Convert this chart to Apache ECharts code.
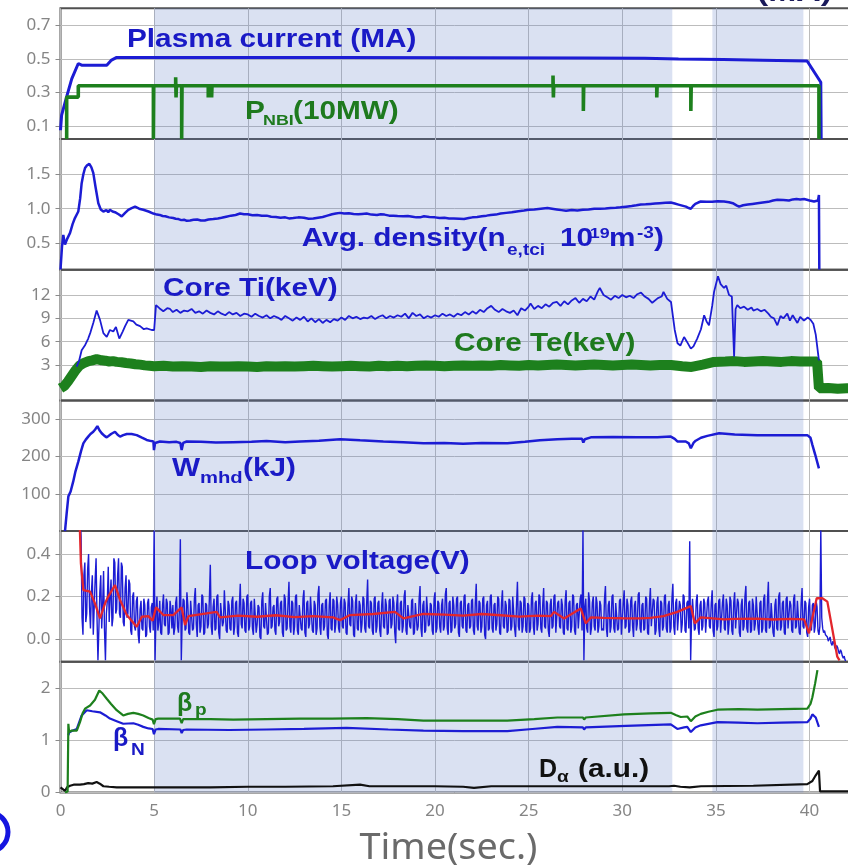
<!DOCTYPE html>
<html><head><meta charset="utf-8">
<script src="https://cdn.jsdelivr.net/npm/echarts@6/dist/echarts.min.js"></script>
<style>html,body{margin:0;padding:0;background:#fff;overflow:hidden}#c{width:848px;height:868px}</style>
</head><body><div id="c"></div><script>
// ---- discharge time traces (time in s) ----
const plasmaCurrent = [[0,0.075],[0.06,0.165],[0.15,0.17],[0.33,0.275],[0.6,0.38],[0.95,0.472],[1.13,0.462],[2.47,0.462],[2.7,0.49],[3.0,0.508],[8,0.508],[15,0.507],[22,0.506],[28,0.505],[31.2,0.503],[33,0.498],[35.4,0.495],[37.5,0.491],[39.87,0.487],[40.6,0.36],[40.62,0.023]];
const pNbi = [[0.33,0.023],[0.33,0.272],[0.95,0.272],[0.95,0.34],[4.96,0.34],[4.96,0.023],[4.98,0.34],[6.15,0.34],[6.15,0.39],[6.17,0.27],[6.19,0.34],[6.47,0.34],[6.47,0.023],[6.49,0.34],[7.89,0.34],[7.89,0.27],[7.91,0.34],[8.07,0.34],[8.07,0.27],[8.09,0.34],[26.3,0.34],[26.3,0.40],[26.32,0.27],[26.34,0.34],[27.92,0.34],[27.92,0.19],[27.94,0.34],[31.84,0.34],[31.84,0.27],[31.86,0.34],[33.66,0.34],[33.66,0.19],[33.68,0.34],[40.5,0.34],[40.5,0.023]];
const density = [[0,0.12],[0.08,0.45],[0.15,0.62],[0.24,0.48],[0.35,0.56],[0.51,0.65],[0.65,0.78],[0.77,0.865],[0.95,0.96],[1.05,1.15],[1.13,1.37],[1.22,1.5],[1.31,1.59],[1.42,1.63],[1.54,1.65],[1.65,1.6],[1.75,1.52],[1.88,1.3],[2.02,1.08],[2.15,0.99],[2.29,0.96],[2.45,0.98],[2.55,0.95],[2.64,0.985],[2.78,0.96],[2.91,0.95],[3.1,0.92],[3.27,0.89],[3.45,0.94],[3.62,0.985],[3.8,1.01],[3.98,1.03],[4.2,1.0],[4.42,0.985],[4.7,0.96],[4.96,0.93],[5.15,0.915],[5.3,0.91],[5.45,0.895],[5.6,0.89],[5.8,0.875],[6.02,0.865],[6.15,0.855],[6.3,0.85],[6.45,0.835],[6.6,0.84],[6.75,0.825],[6.92,0.83],[7.1,0.84],[7.3,0.845],[7.5,0.83],[7.7,0.83],[7.9,0.845],[8.16,0.85],[8.4,0.86],[8.6,0.87],[8.85,0.885],[9.1,0.9],[9.35,0.91],[9.59,0.93],[9.8,0.92],[10.0,0.92],[10.25,0.905],[10.5,0.91],[10.75,0.9],[11.01,0.9],[11.25,0.885],[11.5,0.88],[11.75,0.87],[12.0,0.875],[12.2,0.86],[12.43,0.865],[12.7,0.875],[13.0,0.87],[13.25,0.855],[13.5,0.86],[13.75,0.87],[14.0,0.88],[14.25,0.9],[14.5,0.92],[14.7,0.93],[14.93,0.94],[15.15,0.93],[15.4,0.935],[15.65,0.925],[15.9,0.92],[16.1,0.925],[16.35,0.93],[16.6,0.915],[16.9,0.91],[17.1,0.92],[17.3,0.915],[17.55,0.9],[17.77,0.9],[18.0,0.895],[18.3,0.89],[18.55,0.895],[18.8,0.885],[19.0,0.875],[19.2,0.875],[19.41,0.89],[19.7,0.88],[20.0,0.875],[20.25,0.865],[20.5,0.87],[20.75,0.86],[21.0,0.86],[21.3,0.855],[21.55,0.85],[21.8,0.865],[22.0,0.875],[22.25,0.88],[22.5,0.89],[22.75,0.9],[22.97,0.91],[23.25,0.915],[23.5,0.93],[23.8,0.94],[24.1,0.95],[24.45,0.965],[24.75,0.975],[25.0,0.985],[25.3,0.99],[25.65,1.0],[26.0,1.01],[26.25,1.0],[26.5,0.99],[26.75,0.98],[27.0,0.97],[27.3,0.98],[27.6,0.975],[27.9,0.985],[28.2,0.99],[28.5,1.0],[28.8,1.0],[29.1,1.005],[29.38,1.01],[29.65,1.015],[29.9,1.02],[30.2,1.03],[30.5,1.04],[30.75,1.05],[30.99,1.06],[31.25,1.065],[31.5,1.07],[31.75,1.075],[32.0,1.08],[32.3,1.085],[32.59,1.09],[32.8,1.075],[33.0,1.06],[33.2,1.045],[33.4,1.03],[33.55,1.01],[33.66,1.0],[33.78,1.04],[33.9,1.07],[34.05,1.09],[34.19,1.105],[34.5,1.1],[34.8,1.1],[35.1,1.11],[35.43,1.105],[35.7,1.095],[35.9,1.08],[36.1,1.05],[36.24,1.03],[36.45,1.05],[36.7,1.06],[36.95,1.07],[37.21,1.08],[37.5,1.09],[37.8,1.1],[38.05,1.12],[38.28,1.13],[38.6,1.125],[38.9,1.12],[39.1,1.135],[39.3,1.14],[39.5,1.135],[39.71,1.14],[40.0,1.12],[40.24,1.105],[40.45,1.12],[40.5,1.2],[40.52,0.12]];
const coreTi = [[0.865,2.8],[1.0,3.6],[1.13,4.9],[1.3,5.5],[1.48,6.4],[1.6,7.2],[1.75,8.4],[1.93,10.0],[2.11,8.8],[2.29,7.1],[2.47,6.6],[2.64,7.5],[2.82,7.3],[2.96,7.9],[3.14,6.4],[3.32,7.3],[3.45,8.0],[3.62,8.8],[3.89,8.6],[4.05,8.2],[4.25,8.0],[4.45,7.6],[4.6,7.7],[4.87,7.5],[5.0,7.5],[5.1,10.7],[5.28,10.3],[5.49,9.9],[5.7,10.3],[5.85,10.2],[6.0,9.8],[6.2,10.1],[6.4,9.7],[6.6,10.0],[6.8,9.9],[7.0,10.2],[7.2,9.7],[7.4,9.9],[7.6,9.6],[7.8,10.0],[8.0,9.7],[8.2,9.5],[8.4,9.9],[8.6,9.6],[8.8,9.4],[9.0,9.8],[9.2,9.5],[9.4,9.7],[9.6,9.3],[9.8,9.6],[10.0,9.5],[10.2,9.2],[10.4,9.6],[10.6,9.3],[10.8,9.1],[11.0,9.4],[11.2,9.0],[11.4,9.3],[11.6,9.1],[11.8,8.8],[12.0,9.3],[12.2,9.0],[12.4,8.7],[12.6,9.1],[12.8,8.8],[13.0,9.2],[13.2,8.6],[13.4,9.0],[13.6,8.5],[13.8,8.9],[14.0,8.4],[14.2,8.8],[14.4,8.5],[14.6,8.9],[14.8,8.7],[15.0,9.1],[15.2,8.8],[15.4,9.3],[15.6,9.0],[15.8,9.2],[16.0,8.9],[16.2,9.1],[16.4,9.0],[16.6,9.3],[16.8,8.9],[17.0,9.2],[17.2,9.4],[17.4,9.0],[17.6,9.3],[17.8,9.1],[18.0,9.4],[18.2,9.2],[18.4,9.6],[18.6,9.0],[18.8,9.7],[19.0,9.3],[19.2,9.5],[19.4,9.0],[19.6,9.3],[19.8,9.1],[20.0,9.4],[20.2,9.2],[20.4,9.6],[20.6,9.3],[20.8,9.5],[21.0,9.2],[21.2,9.6],[21.4,9.4],[21.6,9.8],[21.8,9.5],[22.0,9.9],[22.2,9.6],[22.4,10.1],[22.6,9.8],[22.8,10.3],[23.0,10.6],[23.2,10.1],[23.4,9.8],[23.6,10.2],[23.8,9.9],[24.0,9.7],[24.2,10.0],[24.4,9.4],[24.6,10.3],[24.8,10.0],[25.0,10.5],[25.1,10.9],[25.3,10.2],[25.5,10.6],[25.7,10.3],[25.9,10.8],[26.1,10.5],[26.3,11.0],[26.5,11.1],[26.7,10.6],[26.9,11.2],[27.1,10.8],[27.3,11.3],[27.5,11.6],[27.7,11.0],[27.9,11.5],[28.1,11.2],[28.3,11.8],[28.5,11.4],[28.7,12.5],[28.8,12.9],[29.0,12.0],[29.2,11.7],[29.4,11.4],[29.6,11.9],[29.8,11.6],[30.0,12.0],[30.2,11.7],[30.4,11.9],[30.6,11.6],[30.8,12.1],[31.0,12.3],[31.2,11.8],[31.4,11.5],[31.6,11.0],[31.7,10.9],[31.9,11.6],[32.1,11.8],[32.2,12.4],[32.4,11.5],[32.6,11.1],[32.8,7.5],[32.95,5.8],[33.1,5.5],[33.3,6.6],[33.45,6.0],[33.66,5.1],[33.8,5.4],[34.0,6.4],[34.2,7.6],[34.37,9.4],[34.5,8.6],[34.63,8.1],[34.8,10.6],[34.9,12.4],[35.11,14.4],[35.25,13.4],[35.43,12.9],[35.55,13.2],[35.7,12.0],[35.85,11.8],[35.97,4.1],[36.05,10.2],[36.14,10.7],[36.3,10.3],[36.5,10.5],[36.7,10.1],[36.9,10.4],[37.0,10.0],[37.21,10.2],[37.4,9.9],[37.6,10.1],[37.8,9.6],[37.93,9.2],[38.1,9.0],[38.28,8.1],[38.45,9.3],[38.6,9.0],[38.81,9.6],[38.95,8.7],[39.1,9.4],[39.35,8.4],[39.5,9.2],[39.7,8.7],[39.9,9.1],[40.06,8.8],[40.2,8.3],[40.33,6.9],[40.5,3.6]];
const coreTe = [[0,0.0],[0.2,0.3],[0.4,0.9],[0.6,1.6],[0.8,2.3],[1.0,2.9],[1.2,3.2],[1.5,3.5],[1.7,3.6],[1.93,3.75],[2.2,3.6],[2.4,3.55],[2.6,3.45],[2.8,3.5],[3.0,3.4],[3.25,3.35],[3.5,3.25],[3.75,3.2],[4.0,3.1],[4.25,3.05],[4.5,2.95],[4.75,2.9],[5.0,2.85],[5.5,2.9],[6,2.8],[6.5,2.85],[7,2.8],[7.5,2.75],[8,2.85],[8.5,2.8],[9,2.8],[9.5,2.85],[10,2.8],[10.5,2.75],[11,2.85],[11.5,2.8],[12,2.85],[12.5,2.8],[13,2.85],[13.5,2.9],[14,2.85],[14.5,2.8],[15,2.85],[15.5,2.9],[16,2.85],[16.5,2.8],[17,2.9],[17.5,2.85],[18,2.9],[18.5,2.85],[19,2.9],[19.5,2.95],[20,2.9],[20.5,2.85],[21,2.9],[21.5,2.95],[22,2.9],[22.5,2.95],[23,2.9],[23.5,3.0],[24,2.95],[24.5,2.9],[25,3.0],[25.5,2.95],[26,3.0],[26.5,3.05],[27,3.0],[27.5,2.95],[28,3.0],[28.5,3.05],[29,3.0],[29.5,2.95],[30,3.0],[30.5,3.05],[31,3.0],[31.5,2.95],[32,3.0],[32.6,3.0],[33.2,2.85],[33.7,2.75],[34.3,3.05],[34.9,3.4],[35.5,3.45],[36,3.5],[36.5,3.4],[37,3.45],[37.5,3.5],[38,3.45],[38.5,3.4],[39,3.5],[39.5,3.45],[40,3.45],[40.4,3.45],[40.5,0.0],[41,0.05],[41.5,-0.05],[42,0.0],[42.7,0.0]];
const wMhd = [[0.24,0],[0.33,48],[0.42,93],[0.54,106],[0.68,133],[0.8,160],[0.95,186],[1.1,215],[1.22,235],[1.35,245],[1.48,253],[1.6,260],[1.75,266],[1.85,272],[1.97,281],[2.08,270],[2.2,262],[2.35,255],[2.47,251],[2.7,260],[2.91,266],[3.05,258],[3.18,253],[3.35,257],[3.54,260],[3.8,260],[4.07,257],[4.35,250],[4.6,244],[4.85,241],[4.96,240],[4.99,217],[5.05,236],[5.31,240],[5.8,238],[6.2,239],[6.4,236],[6.47,217],[6.55,236],[6.74,240],[7.5,239],[8.3,237],[9.21,238],[10.2,239],[11.0,241],[12.0,238],[12.79,240],[13.8,242],[14.93,246],[16.0,243],[17.24,240],[18.3,238],[19.38,235],[20.5,236],[21.5,234],[22.5,236],[23.86,235],[24.8,239],[25.6,243],[26.53,246],[27.3,247],[27.85,247],[27.92,237],[28.0,246],[28.32,251],[29.5,252],[30.8,251],[31.87,251],[32.59,253],[32.8,247],[32.94,240],[33.39,240],[33.55,235],[33.66,222],[33.8,236],[33.92,242],[34.2,250],[34.54,255],[35.17,262],[36.0,259],[37.21,257],[38.5,257],[39.88,257],[40.05,250],[40.15,231],[40.3,205],[40.5,168]];
// loop voltage, raw signal sampled every 0.05 s from 1.0 s (one row per second)
const vloopStart = 1.0, vloopStep = 0.05;
const vloopRaw = [
 0.55,0.60,0.48,0.10,0.02,0.30,0.36,0.08,0.12,0.33,0.40,0.15,0.05,0.22,0.30,0.02,0.15,0.28,0.38,0.10,
 -0.10,0.05,0.22,0.30,0.05,0.16,0.32,0.04,-0.10,0.12,0.18,0.34,0.08,0.20,0.28,0.06,0.10,0.38,0.36,0.12,
 0.14,0.30,0.38,0.12,0.10,0.36,0.34,0.08,0.06,0.24,0.30,0.10,0.12,0.28,0.26,0.04,0.02,0.20,0.22,0.06,
 0.04,0.18,0.20,0.02,-0.02,0.14,0.18,0.05,0.04,0.19,0.16,0.01,0.02,0.17,0.19,0.06,0.03,0.15,0.17,0.04,
 0.52,-0.10,0.12,0.20,0.04,0.08,0.18,0.03,0.02,0.16,0.21,0.07,0.06,0.19,0.17,0.02,0.03,0.18,0.14,0.05,
 0.16,0.02,0.05,0.17,0.20,0.06,0.03,0.15,0.47,-0.10,0.10,0.19,0.18,0.04,0.05,0.22,0.16,0.03,0.02,0.18,
 0.18,0.04,0.05,0.19,0.24,0.07,0.01,0.16,0.17,0.03,0.06,0.21,0.20,0.02,0.03,0.17,0.16,0.05,0.07,0.19,
 0.35,0.06,0.02,0.15,0.19,0.04,0.05,0.20,0.21,0.03,0.00,0.17,0.17,0.06,0.08,0.23,0.23,0.04,0.03,0.18,
 0.16,0.05,0.04,0.18,0.20,0.02,0.06,0.17,0.18,0.03,0.01,0.16,0.26,0.07,0.05,0.19,0.17,0.04,0.03,0.20,
 0.21,0.04,0.06,0.17,0.18,0.05,0.02,0.19,0.19,0.03,0.07,0.16,0.15,0.01,0.00,0.18,0.22,0.06,0.05,0.17,
 0.17,0.02,0.03,0.20,0.24,0.05,0.06,0.15,0.16,0.04,0.02,0.19,0.20,0.06,0.08,0.17,0.18,0.03,0.01,0.21,
 0.19,0.04,0.05,0.17,0.27,0.06,0.03,0.18,0.17,0.02,0.06,0.20,0.21,0.04,0.02,0.16,0.16,0.05,0.04,0.19,
 0.23,0.03,0.01,0.17,0.18,0.05,0.07,0.20,0.20,0.04,0.03,0.18,0.16,0.02,0.05,0.21,0.25,0.06,0.02,0.16,
 0.17,0.04,0.06,0.18,0.19,0.02,0.00,0.16,0.22,0.05,0.04,0.19,0.18,0.03,0.07,0.20,0.16,0.05,0.03,0.17,
 0.20,0.06,0.05,0.19,0.17,0.03,0.02,0.16,0.24,0.07,0.06,0.20,0.18,0.02,0.01,0.17,0.21,0.05,0.04,0.18,
 0.16,0.03,0.07,0.20,0.19,0.05,0.03,0.17,0.28,0.06,0.05,0.18,0.17,0.04,0.02,0.19,0.20,0.03,0.06,0.17,
 0.18,0.04,0.01,0.16,0.22,0.06,0.05,0.19,0.16,0.02,0.03,0.18,0.19,0.05,0.07,0.20,0.17,0.03,-0.02,0.16,
 0.21,0.05,0.04,0.17,0.18,0.03,0.06,0.20,0.23,0.04,0.02,0.16,0.16,0.06,0.05,0.18,0.19,0.02,0.03,0.17,
 0.17,0.04,0.06,0.19,0.25,0.05,0.01,0.16,0.18,0.03,0.04,0.20,0.20,0.06,0.07,0.17,0.16,0.04,0.02,0.19,
 0.22,0.03,0.05,0.18,0.17,0.06,0.03,0.16,0.19,0.04,0.06,0.21,0.24,0.05,0.02,0.17,0.18,0.03,0.04,0.20,
 0.16,0.05,0.07,0.19,0.20,0.03,0.01,0.17,0.18,0.06,0.05,0.20,0.21,0.04,0.03,0.16,0.17,0.05,0.06,0.18,
 0.19,0.04,0.02,0.17,0.26,0.06,0.04,0.18,0.17,0.03,0.06,0.19,0.20,0.02,0.00,0.16,0.18,0.04,0.05,0.20,
 0.21,0.05,0.03,0.16,0.17,0.04,0.07,0.20,0.19,0.03,0.02,0.17,0.23,0.06,0.05,0.18,0.16,0.03,0.04,0.19,
 0.18,0.04,0.06,0.20,0.20,0.05,0.01,0.16,0.27,0.06,0.04,0.18,0.17,0.03,0.06,0.20,0.19,0.04,0.03,0.17,
 0.16,0.03,0.05,0.19,0.22,0.06,0.02,0.17,0.18,0.04,0.07,0.21,0.20,0.05,0.03,0.16,0.24,0.06,0.05,0.18,
 0.17,0.04,0.01,0.16,0.19,0.05,0.06,0.20,0.21,0.03,0.03,0.17,0.18,0.06,0.05,0.19,0.16,0.03,0.02,0.18,
 0.23,0.05,0.04,0.17,0.18,0.03,0.06,0.21,0.20,0.04,0.02,0.16,0.17,0.05,0.05,0.19,0.21,0.04,0.52,-0.10,
 0.15,0.19,0.05,0.03,0.22,0.18,0.02,0.05,0.17,0.20,0.06,0.04,0.20,0.17,0.03,0.06,0.18,0.16,0.04,0.05,
 0.04,0.19,0.25,0.05,0.01,0.16,0.18,0.03,0.06,0.20,0.21,0.05,0.03,0.17,0.17,0.04,0.05,0.18,0.19,0.02,
 0.02,0.17,0.23,0.05,0.06,0.19,0.16,0.03,0.04,0.18,0.20,0.06,0.01,0.16,0.18,0.04,0.07,0.21,0.22,0.05,
 0.03,0.16,0.17,0.04,0.05,0.20,0.19,0.03,0.02,0.17,0.24,0.06,0.06,0.19,0.18,0.02,0.04,0.17,0.20,0.05,
 0.01,0.18,0.17,0.04,0.06,0.20,0.21,0.05,0.03,0.16,0.18,0.03,0.05,0.19,0.26,0.06,0.02,0.17,0.19,0.04,
 0.04,0.18,0.16,0.03,0.07,0.21,0.20,0.04,0.03,0.17,0.18,0.05,0.46,-0.10,0.10,0.19,0.19,0.04,0.05,0.18,
 0.21,0.05,0.02,0.16,0.18,0.04,0.06,0.19,0.17,0.03,0.03,0.18,0.20,0.06,0.05,0.17,0.23,0.04,0.01,0.16,
 0.17,0.04,0.06,0.18,0.19,0.03,0.03,0.17,0.21,0.05,0.04,0.19,0.16,0.02,0.07,0.20,0.18,0.04,0.02,0.17,
 0.22,0.05,0.05,0.19,0.17,0.03,0.01,0.16,0.19,0.04,0.06,0.20,0.25,0.05,0.03,0.17,0.18,0.03,0.04,0.19,
 0.16,0.04,0.07,0.20,0.20,0.05,0.02,0.17,0.18,0.03,0.05,0.19,0.21,0.04,0.03,0.18,0.27,0.05,0.06,0.17,
 0.17,0.03,0.01,0.16,0.19,0.05,0.04,0.20,0.22,0.04,0.06,0.17,0.18,0.03,0.02,0.19,0.20,0.05,0.05,0.18,
 0.16,0.04,0.03,0.19,0.21,0.05,0.06,0.18,0.18,0.03,0.02,0.17,0.24,0.06,0.05,0.18,0.17,0.03,0.01,0.15,
 0.19,0.05,0.04,0.16,0.17,0.03,0.06,0.18,0.15,0.04,0.02,0.06,0.52,0.10,0.05,0.03,0.04,0.02,0.02,0.01,
 -0.01,0.00,0.01,-0.02,-0.03,-0.01,-0.02,-0.04,-0.05,-0.03,-0.04,-0.06,-0.07,-0.05,-0.06,-0.08,-0.09,-0.08,-0.10,-0.10
];
const vloopSmooth = [[1.0,0.62],[1.09,0.356],[1.22,0.23],[1.58,0.223],[1.84,0.168],[2.11,0.097],[2.38,0.168],[2.55,0.2],[2.91,0.254],[3.18,0.184],[3.54,0.113],[4.07,0.058],[4.34,0.105],[4.69,0.108],[4.92,0.086],[5.1,0.149],[5.49,0.113],[6.02,0.113],[6.47,0.149],[6.65,0.066],[6.83,0.108],[8.34,0.128],[8.52,0.102],[9.5,0.11],[10.5,0.105],[11.5,0.112],[12.5,0.103],[13.5,0.108],[14.55,0.102],[14.93,0.089],[15.46,0.113],[16.7,0.118],[17.86,0.128],[18.31,0.097],[19.38,0.118],[20.5,0.115],[21.5,0.11],[22.5,0.118],[23.5,0.112],[24.5,0.106],[25.5,0.11],[26.18,0.108],[26.36,0.128],[26.89,0.097],[27.78,0.144],[28.05,0.074],[28.32,0.102],[29.0,0.1],[30.0,0.098],[30.99,0.097],[31.5,0.1],[32.2,0.108],[32.94,0.128],[33.66,0.155],[33.87,0.074],[34.19,0.102],[35.43,0.093],[36.0,0.095],[37.21,0.096],[38.0,0.092],[39.0,0.095],[39.71,0.093],[39.97,0.027],[40.38,0.192],[40.68,0.192],[40.95,0.176],[41.48,-0.083],[41.6,-0.1]];
const betaP = [[0.24,0],[0.38,0.02],[0.42,1.32],[0.46,1.16],[0.6,1.19],[0.87,1.19],[1.04,1.35],[1.18,1.52],[1.31,1.61],[1.58,1.67],[1.84,1.78],[2.07,1.96],[2.25,1.9],[2.47,1.80],[2.7,1.7],[3.0,1.58],[3.35,1.48],[3.6,1.51],[3.89,1.53],[4.15,1.51],[4.42,1.48],[4.7,1.43],[4.92,1.40],[4.99,1.31],[5.08,1.41],[5.22,1.42],[6.38,1.42],[6.47,1.33],[6.55,1.41],[6.65,1.42],[8.0,1.41],[9.23,1.40],[11.0,1.41],[12.79,1.42],[14.5,1.42],[16.35,1.43],[18.0,1.41],[19.38,1.38],[21.5,1.38],[23.86,1.38],[25.3,1.41],[26.53,1.44],[27.9,1.44],[27.96,1.40],[28.05,1.44],[30.09,1.50],[31.5,1.52],[32.59,1.53],[32.85,1.49],[33.12,1.45],[33.47,1.46],[33.66,1.37],[33.9,1.46],[34.19,1.51],[34.6,1.55],[35.08,1.59],[36.2,1.60],[37.21,1.59],[38.5,1.6],[39.88,1.61],[40.05,1.7],[40.15,1.83],[40.3,2.1],[40.42,2.35]];
const betaN = [[0.42,1.1],[0.46,1.15],[0.6,1.18],[0.87,1.22],[1.0,1.35],[1.13,1.48],[1.4,1.58],[1.7,1.56],[2.11,1.54],[2.4,1.48],[2.64,1.42],[3.0,1.37],[3.35,1.32],[3.89,1.33],[4.15,1.3],[4.42,1.26],[4.7,1.23],[4.92,1.22],[4.99,1.12],[5.08,1.21],[5.22,1.22],[6.4,1.21],[6.47,1.14],[6.55,1.2],[6.74,1.21],[9.0,1.2],[11.01,1.21],[13.0,1.22],[15.28,1.24],[17.5,1.21],[19.38,1.19],[21.5,1.18],[23.86,1.18],[25.2,1.22],[26.53,1.26],[27.9,1.25],[27.96,1.21],[28.05,1.25],[30.2,1.28],[32.59,1.31],[32.94,1.22],[33.3,1.25],[33.47,1.26],[33.66,1.16],[33.9,1.25],[34.19,1.29],[35.08,1.35],[36.2,1.34],[37.21,1.33],[38.5,1.34],[39.88,1.35],[40.05,1.42],[40.15,1.50],[40.33,1.44],[40.5,1.26]];
const dAlpha = [[0,0.10],[0.1,0.08],[0.24,0.03],[0.35,0.1],[0.51,0.13],[0.7,0.15],[1.04,0.15],[1.25,0.16],[1.48,0.18],[1.7,0.17],[1.93,0.20],[2.1,0.17],[2.29,0.12],[2.6,0.11],[3.0,0.10],[5,0.10],[8,0.10],[10,0.11],[12,0.11],[14.55,0.12],[16.0,0.15],[16.5,0.12],[20,0.12],[21.5,0.11],[22.08,0.09],[23,0.12],[26,0.12],[30,0.12],[32.5,0.12],[32.76,0.13],[33.1,0.11],[33.6,0.10],[34.2,0.12],[37,0.13],[39.88,0.16],[40.15,0.22],[40.33,0.33],[40.5,0.42],[40.56,0.02],[42.7,0.02]];

// time windows highlighted in every panel
const highlightWindows = [[5.0, 32.67], [34.81, 39.67]];
// per-panel y ranges and tick values
const yRanges = [[0.023,0.8],[0.117,2.01],[-1.55,15.25],[0,350],[-0.107,0.508],[0,2.51]];
const yTicks = [[0.1,0.3,0.5,0.7],[0.5,1.0,1.5],[3,6,9,12],[100,200,300],[0.0,0.2,0.4],[0,1,2]];
const yDecimals = [1,1,0,0,1,0];
const xTickLabels = [0,5,10,15,20,25,30,35,40];

// ---- layout ----
// the plot area runs past the right edge of the page, as on the original figure
const PANEL_TOP = 8.3, PANEL_H = 130.7, LEFT = 60.5, WIDTH = 800, XMAX = 42.72;
const BLUE = '#1c1cd4', GREEN = '#1d801d', RED = '#e3262c', TXT_BLUE = '#1a1ac6', TXT_GREEN = '#1e7a1e';
const tickFont = '"Noto Sans", "Open Sans", sans-serif';
const labelFont = '"Liberation Sans", Arial, sans-serif';

const grids = [], xAxes = [], yAxes = [];
for (let i = 0; i < 6; i++) {
  grids.push({left: LEFT, top: PANEL_TOP + i * PANEL_H, width: WIDTH, height: PANEL_H,
    outerBoundsMode: 'none', containLabel: false,
    show: true, borderColor: '#505050', borderWidth: 2, backgroundColor: 'transparent'});
  xAxes.push({type: 'value', gridIndex: i, min: 0, max: XMAX, interval: 5,
    axisLine: {show: false}, axisTick: {show: false},
    axisLabel: {show: i === 5, margin: 10, color: '#858585', fontSize: 17, fontFamily: tickFont,
      formatter: v => xTickLabels.indexOf(v) >= 0 ? String(v) : ''},
    splitLine: {show: true, lineStyle: {color: '#bcbcbc', width: 1}}});
  yAxes.push({type: 'value', gridIndex: i, min: yRanges[i][0], max: yRanges[i][1],
    axisLine: {show: false},
    axisTick: {show: true, length: 5, customValues: yTicks[i], lineStyle: {color: '#8a8a8a'}},
    axisLabel: {customValues: yTicks[i], margin: 10, color: '#858585', fontSize: 17, fontFamily: tickFont,
      formatter: v => Number(v).toFixed(yDecimals[i])},
    splitLine: {show: true, lineStyle: {color: '#bcbcbc', width: 1}}});
}

const shade = {silent: true, z: 1, itemStyle: {color: 'rgba(100,130,200,0.24)'},
  data: highlightWindows.map(w => [{xAxis: w[0]}, {xAxis: w[1]}])};

function line(i, data, color, width, extra) {
  return Object.assign({type: 'line', xAxisIndex: i, yAxisIndex: i, data, showSymbol: false, symbol: 'none',
    animation: false, silent: true, lineStyle: {color, width}, clip: true}, extra || {});
}

const vloopSeries = vloopRaw.map((v, k) => [+(vloopStart + k * vloopStep).toFixed(2), v]);

const series = [
  line(0, plasmaCurrent, BLUE, 3, {markArea: shade}),
  line(0, pNbi, GREEN, 3.6),
  line(1, density, BLUE, 2.5, {markArea: shade}),
  line(2, coreTe, GREEN, 10, {markArea: shade}),
  line(2, coreTi, BLUE, 1.8),
  line(3, wMhd, BLUE, 2.5, {markArea: shade}),
  line(4, vloopSeries, BLUE, 1.4, {markArea: shade}),
  line(4, vloopSmooth, RED, 2.3),
  line(5, dAlpha, '#111111', 2.2, {markArea: shade}),
  line(5, betaN, BLUE, 2.2),
  line(5, betaP, GREEN, 2.2)
];

function label(text, x, y, size, color, sx) {
  return {type: 'text', x, y, scaleX: sx || 1.19, silent: true, z: 50,
    style: {text, fontFamily: labelFont, fontWeight: 'bold', fontSize: size, fill: color,
      align: 'left', verticalAlign: 'middle'}};
}

const graphics = [
  label('Plasma current (MA)', 127, 40, 25, TXT_BLUE),
  label('P', 245, 111.7, 25, TXT_GREEN),
  label('NBI', 263, 121, 15, TXT_GREEN),
  label('(10MW)', 293, 111.7, 25, TXT_GREEN),
  label('Avg. density(n', 301.7, 239.2, 25, TXT_BLUE),
  label('e,tci', 507, 251, 16, TXT_BLUE),
  label('10', 560, 239.2, 25, TXT_BLUE),
  label('19', 589.7, 233.4, 15, TXT_BLUE),
  label('m', 609, 239.2, 25, TXT_BLUE),
  label('-3', 637, 233.4, 16, TXT_BLUE),
  label(')', 654, 239.2, 25, TXT_BLUE),
  label('Core Ti(keV)', 163, 289, 25, TXT_BLUE),
  label('Core Te(keV)', 454, 344, 25, TXT_GREEN),
  label('W', 172, 469.5, 25, TXT_BLUE),
  label('mhd', 200, 478, 17, TXT_BLUE),
  label('(kJ)', 243, 469.5, 25, TXT_BLUE),
  label('Loop voltage(V)', 245, 562, 25, TXT_BLUE),
  label('\u03b2', 177, 704, 25, TXT_GREEN, 1.0),
  label('p', 195, 711, 16, TXT_GREEN),
  label('\u03b2', 113, 739, 25, TXT_BLUE, 1.0),
  label('N', 131, 751, 16, TXT_BLUE),
  label('D', 539, 770, 25, '#111111', 1.0),
  label('\u03b1', 557, 778, 16, '#111111'),
  label('(a.u.)', 578, 770, 25, '#111111'),
  // units of a trace above this figure, cut by the top edge
  label('(MA)', 757, -6, 25, '#1a1a5a', 1.35),
  // edge of a panel tag to the left of the axis
  {type: 'circle', shape: {cx: -12, cy: 832, r: 20}, silent: true, z: 50,
    style: {fill: 'none', stroke: '#1515e0', lineWidth: 5}},
  {type: 'text', x: 448.5, y: 849, scaleX: 1.05, silent: true,
    style: {text: 'Time(sec.)', fontFamily: tickFont, fontSize: 36, fill: '#6a6a6a', align: 'center', verticalAlign: 'middle'}}
];

const chart = echarts.init(document.getElementById('c'), null, {renderer: 'canvas'});
chart.setOption({animation: false, backgroundColor: '#ffffff', grid: grids, xAxis: xAxes, yAxis: yAxes,
  series, graphic: graphics});
</script></body></html>
